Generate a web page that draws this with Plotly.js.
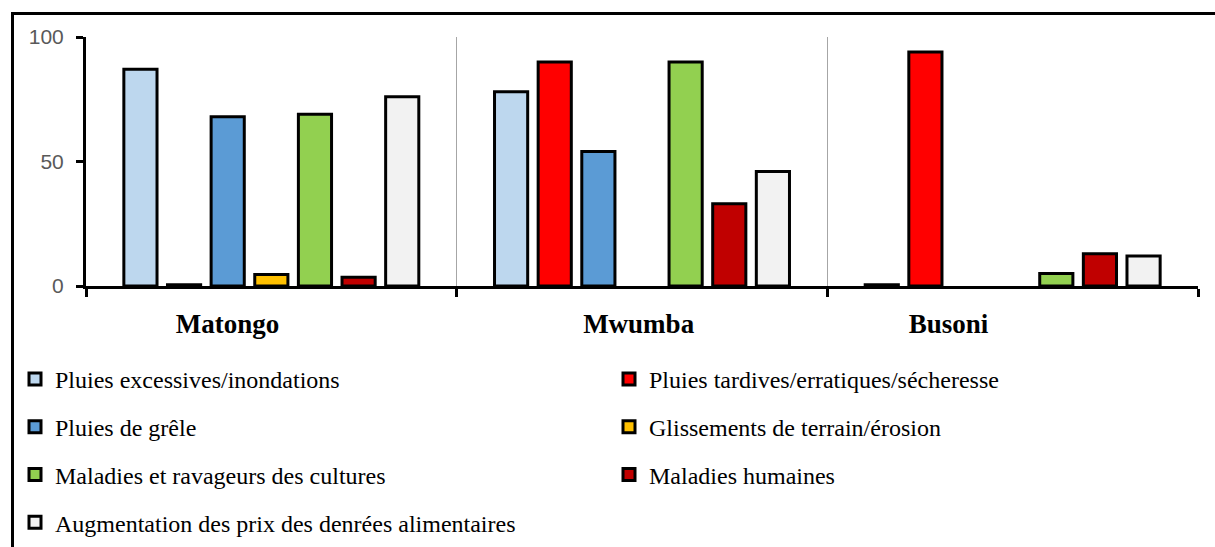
<!DOCTYPE html>
<html>
<head>
<meta charset="utf-8">
<script src="https://cdn.plot.ly/plotly-3.0.1.min.js"></script>
<style>
  html, body { margin: 0; padding: 0; background: #fff; overflow: hidden; }
  #wrap { position: relative; width: 1215px; height: 547px; }
  #chart { position: absolute; left: 0; top: 0; width: 1215px; height: 547px; }
  #frame { position: absolute; left: 11px; top: 12px; width: 1300px; height: 700px;
           border: 3px solid #000; box-sizing: border-box; pointer-events: none; }
</style>
</head>
<body>
<div id="wrap">
  <div id="chart"></div>
  <div id="frame"></div>
</div>
<script>
const categories = ["Matongo", "Mwumba", "Busoni"];
// label text as in the source (trailing blanks shift the centred labels)
const categoryLabels = [
  "Matongo" + "\u00A0".repeat(13),
  "Mwumba" + "\u00A0".repeat(1),
  "Busoni" + "\u00A0".repeat(19)
];
const seriesNames = [
  "Pluies excessives/inondations",
  "Pluies tardives/erratiques/sécheresse",
  "Pluies de grêle",
  "Glissements de terrain/érosion",
  "Maladies et ravageurs des cultures",
  "Maladies humaines",
  "Augmentation des prix des denrées alimentaires"
];
const pluiesExcessives = [87, 78, 0.5];
const pluiesTardives   = [0.5, 90, 94];
const pluiesGrele      = [68, 54, 0];
const glissements      = [4.6, 0, 0];
const maladiesCultures = [69, 90, 5];
const maladiesHumaines = [3.5, 33, 13];
const augmentationPrix = [76, 46, 12];
const seriesValues = [pluiesExcessives, pluiesTardives, pluiesGrele, glissements,
                      maladiesCultures, maladiesHumaines, augmentationPrix];
const seriesColors = ["#BDD7EE", "#FF0000", "#5B9BD5", "#FFC000", "#92D050", "#C00000", "#F2F2F2"];
const yTicks = [0, 50, 100];

const traces = seriesNames.map((name, i) => ({
  type: "bar",
  name: name,
  x: categories,
  y: seriesValues[i],
  marker: {
    color: seriesColors[i],
    line: { color: "#000", width: seriesValues[i].map(v => (v === 0 ? 0 : 3)) }
  },
  legend: (i % 2 === 0) ? "legend" : "legend2",
  legendgroup: "g" + i,
  hoverinfo: "x+y+name"
}));

const legendFont = { family: "Liberation Serif, Times New Roman, serif", size: 24, color: "#000" };

const layout = {
  width: 1215,
  height: 547,
  margin: { l: 86, r: 17, t: 37, b: 261, autoexpand: false },
  paper_bgcolor: "#fff",
  plot_bgcolor: "#fff",
  barmode: "group",
  bargap: 0.176,
  bargroupgap: 0.24,
  showlegend: true,
  xaxis: {
    type: "category",
    tickmode: "array",
    tickvals: categories,
    ticktext: categoryLabels,
    tickson: "boundaries",
    ticks: "outside",
    ticklen: 8,
    tickwidth: 3,
    tickcolor: "#000",
    showline: true,
    linecolor: "#000",
    linewidth: 3,
    showgrid: true,
    gridcolor: "#a6a6a6",
    gridwidth: 1,
    tickangle: 0,
    automargin: false,
    ticklabelstandoff: 12,
    tickfont: { family: "Liberation Serif, Times New Roman, serif", size: 27, color: "#000", weight: "bold" }
  },
  yaxis: {
    range: [0, 100],
    tickvals: yTicks,
    ticktext: yTicks.map(String),
    ticks: "outside",
    ticklen: 7,
    tickwidth: 3,
    tickcolor: "#000",
    showline: true,
    linecolor: "#000",
    linewidth: 3,
    showgrid: false,
    zeroline: false,
    automargin: false,
    ticklabelstandoff: 8,
    tickfont: { family: "Liberation Sans, Arial, sans-serif", size: 21, color: "#595959" }
  },
  legend: {
    xref: "container", yref: "container",
    x: 15 / 1215, y: 1 - 357 / 547,
    xanchor: "left", yanchor: "top",
    orientation: "v",
    tracegroupgap: 13.5,
    bgcolor: "rgba(0,0,0,0)",
    font: legendFont
  },
  legend2: {
    xref: "container", yref: "container",
    x: 609 / 1215, y: 1 - 357 / 547,
    xanchor: "left", yanchor: "top",
    orientation: "v",
    tracegroupgap: 13.5,
    bgcolor: "rgba(0,0,0,0)",
    font: legendFont
  }
};

Plotly.newPlot("chart", traces, layout, { displayModeBar: false, staticPlot: true });
</script>
</body>
</html>
